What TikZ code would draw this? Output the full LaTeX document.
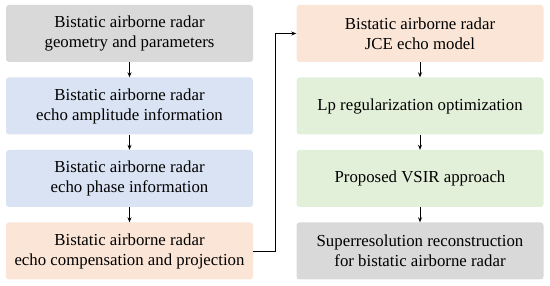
\documentclass[tikz,border=0pt]{standalone}
\usepackage{fontspec}
\setmainfont{Liberation Serif}
\usetikzlibrary{positioning,arrows.meta}
\definecolor{boxgray}{RGB}{217,217,217}
\definecolor{boxblue}{RGB}{218,227,243}
\definecolor{boxpeach}{RGB}{251,229,214}
\definecolor{boxgreen}{RGB}{226,240,217}

\begin{document}
\begin{tikzpicture}[
  x=1pt, y=1pt,
  every node/.style={font=\rmfamily\fontsize{16.8}{20}\selectfont},
  stage/.style={rounded corners=3pt, fill=#1, minimum width=247pt,
                minimum height=57pt, align=center, inner sep=2pt},
  arr/.style={-{Stealth[length=5pt,width=4pt]}, line width=0.8pt}]

\useasboundingbox (0,0) rectangle (550,286);

%% Left column
\node[stage=boxgray]  (geo)   at (129.5, 252.5) {Bistatic airborne radar\\geometry and parameters};
\node[stage=boxblue]  (amp)   at (129.5, 180.0) {Bistatic airborne radar\\echo amplitude information};
\node[stage=boxblue]  (phase) at (129.5, 107.5) {Bistatic airborne radar\\echo phase information};
\node[stage=boxpeach] (comp)  at (129.5,  35.0) {Bistatic airborne radar\\echo compensation and projection};

%% Right column
\node[stage=boxpeach] (jce)   at (420.0, 252.5) {Bistatic airborne radar\\JCE echo model};
\node[stage=boxgreen] (lp)    at (420.0, 180.0) {Lp regularization optimization};
\node[stage=boxgreen] (vsir)  at (420.0, 107.5) {Proposed VSIR approach};
\node[stage=boxgray]  (sr)    at (420.0,  35.0) {Superresolution reconstruction\\for bistatic airborne radar};

%% Turning point of the link between the columns
\coordinate (bend) at (275, 0);

%% Arrows
\draw[arr] (geo)   -- (amp);
\draw[arr] (amp)   -- (phase);
\draw[arr] (phase) -- (comp);
\draw[arr] (comp.east) -- (comp.east -| bend) |- (jce.west);
\draw[arr] (jce)   -- (lp);
\draw[arr] (lp)    -- (vsir);
\draw[arr] (vsir)  -- (sr);
\end{tikzpicture}
\end{document}
